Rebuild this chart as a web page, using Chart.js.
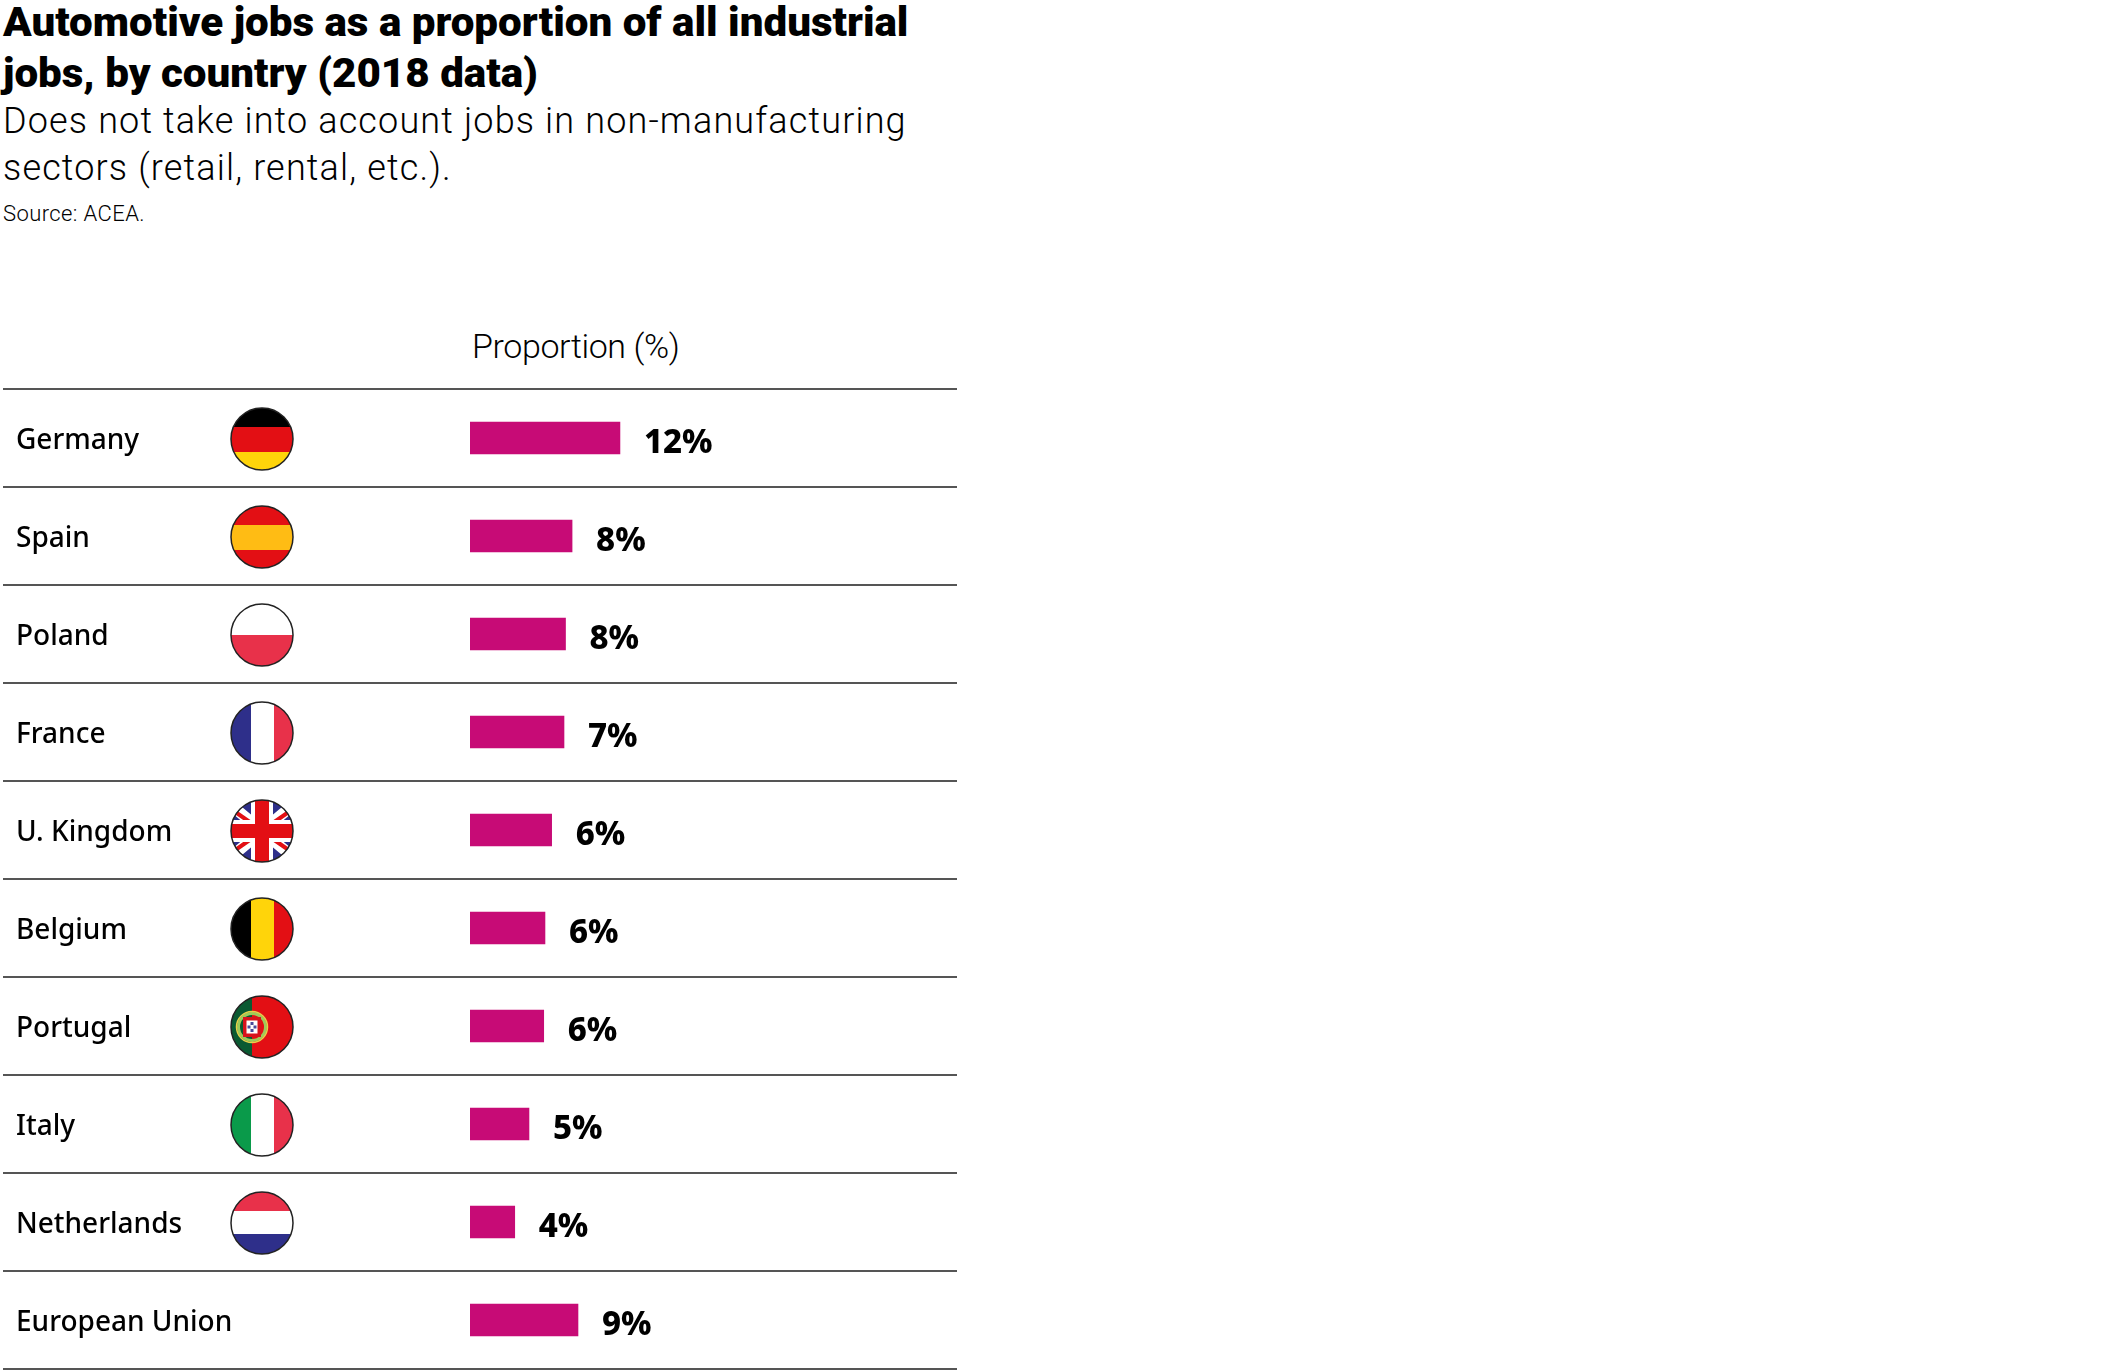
<!DOCTYPE html>
<html>
<head>
<meta charset="utf-8">
<script src="https://cdn.jsdelivr.net/npm/chart.js@4"></script>
<style>
  html, body { margin: 0; padding: 0; background: #fff; }
  body { width: 2126px; height: 1372px; position: relative; overflow: hidden; }
  #myChart { position: absolute; left: 0; top: 0; }
  .txt { position: absolute; white-space: nowrap; color: #000; transform-origin: left top; }
  #title { left: 3px; top: -3px; font: 900 41px/51px Roboto, sans-serif; transform: scaleX(1.027); }
  #sub { left: 3px; top: 98px; font: 300 36px/47px Roboto, sans-serif; letter-spacing: 1.15px; }
  #source { left: 3px; top: 200px; font: 300 22px/28px Roboto, sans-serif; letter-spacing: .4px; }
  #axisTitle { left: 472px; top: 326px; font: 300 34px/40px Roboto, sans-serif; letter-spacing: -.4px; }
</style>
</head>
<body>
<div class="txt" id="title">Automotive jobs as a proportion of all industrial<br>jobs, by country (2018 data)</div>
<div class="txt" id="sub">Does not take into account jobs in non-manufacturing<br>sectors (retail, rental, etc.).</div>
<div class="txt" id="source">Source: ACEA.</div>
<div class="txt" id="axisTitle">Proportion (%)</div>
<canvas id="myChart" width="2126" height="1372"></canvas>
<script>
const countries = ["Germany", "Spain", "Poland", "France", "U. Kingdom", "Belgium", "Portugal", "Italy", "Netherlands", "European Union"]
// bar lengths, the printed labels are rounded
const proportion = [11.9, 8.1, 7.58, 7.46, 6.48, 5.95, 5.85, 4.68, 3.55, 8.57]
const valueLabels = ["12%", "8%", "8%", "7%", "6%", "6%", "6%", "5%", "4%", "9%"]

const RED = "#e30f14", YELLOW = "#ffd40a", BLUE = "#2e2f8a", SOFTRED = "#e8314a"

function hStripes(ctx, x, y, r, stops, colors){
    colors.forEach(function (c, i){
        ctx.fillStyle = c
        ctx.fillRect(x - r, y + stops[i], r * 2, stops[i + 1] - stops[i])
    })
}

function vStripes(ctx, x, y, r, stops, colors){
    colors.forEach(function (c, i){
        ctx.fillStyle = c
        ctx.fillRect(x + stops[i], y - r, stops[i + 1] - stops[i], r * 2)
    })
}

function unionJack(ctx, x, y, r){
    ctx.fillStyle = BLUE
    ctx.fillRect(x - r, y - r, r * 2, r * 2)
    ctx.lineCap = "butt"
    ctx.strokeStyle = "#fff"
    ctx.lineWidth = 11
    ctx.beginPath()
    ctx.moveTo(x - r, y - 26); ctx.lineTo(x + r, y + 26)
    ctx.moveTo(x - r, y + 26); ctx.lineTo(x + r, y - 26)
    ctx.stroke()
    ctx.strokeStyle = RED
    ctx.lineWidth = 4
    ctx.beginPath()
    ctx.moveTo(x - r, y - 22); ctx.lineTo(x - 8, y - 6)
    ctx.moveTo(x + r, y + 22); ctx.lineTo(x + 8, y + 6)
    ctx.moveTo(x - r, y + 22); ctx.lineTo(x - 8, y + 6)
    ctx.moveTo(x + r, y - 22); ctx.lineTo(x + 8, y - 6)
    ctx.stroke()
    ctx.fillStyle = "#fff"
    ctx.fillRect(x - 11, y - r, 22, r * 2)
    ctx.fillRect(x - r, y - 11, r * 2, 22)
    ctx.fillStyle = RED
    ctx.fillRect(x - 7, y - r, 14, r * 2)
    ctx.fillRect(x - r, y - 7, r * 2, 14)
}

function portugal(ctx, x, y, r){
    vStripes(ctx, x, y, r, [-r, -10, r], ["#0a5a32", RED])
    const cx = x - 10
    ctx.strokeStyle = "#9ccb5a"
    ctx.lineWidth = 3
    ctx.beginPath(); ctx.arc(cx, y, 13.5, 0, Math.PI * 2); ctx.stroke()
    ctx.strokeStyle = "#e6d04a"
    ctx.lineWidth = 1.5
    ctx.beginPath(); ctx.arc(cx, y, 15.5, 0, Math.PI * 2); ctx.stroke()
    ctx.fillStyle = "#d8131c"
    ctx.fillRect(cx - 9, y - 10, 18, 20)
    ctx.fillStyle = "#fff"
    ctx.fillRect(cx - 5.5, y - 6.5, 11, 13)
    ctx.fillStyle = "#4a4a9a"
    ctx.fillRect(cx - 1.5, y - 5, 3, 3)
    ctx.fillRect(cx - 1.5, y + 2, 3, 3)
    ctx.fillRect(cx - 4.5, y - 1.5, 3, 3)
    ctx.fillRect(cx + 1.5, y - 1.5, 3, 3)
}

// one painter per row, European Union has no flag
const flags = [
    (c, x, y, r) => hStripes(c, x, y, r, [-r, -12, 13, r], ["#000", RED, YELLOW]),
    (c, x, y, r) => hStripes(c, x, y, r, [-r, -12, 13, r], [RED, "#ffbc14", RED]),
    (c, x, y, r) => hStripes(c, x, y, r, [-r, 0, r], ["#fff", SOFTRED]),
    (c, x, y, r) => vStripes(c, x, y, r, [-r, -11, 12, r], [BLUE, "#fff", SOFTRED]),
    unionJack,
    (c, x, y, r) => vStripes(c, x, y, r, [-r, -11, 12, r], ["#000", YELLOW, RED]),
    portugal,
    (c, x, y, r) => vStripes(c, x, y, r, [-r, -11, 12, r], ["#0a9a4a", "#fff", SOFTRED]),
    (c, x, y, r) => hStripes(c, x, y, r, [-r, -12, 11, r], [SOFTRED, "#fff", BLUE]),
    null
]

const rowExtras = {
    id: "rowExtras",
    afterDatasetsDraw(chart){
        const ctx = chart.ctx
        const yScale = chart.scales.y
        const bars = chart.getDatasetMeta(0).data
        ctx.save()
        // value labels next to bar ends
        ctx.fillStyle = "#000"
        ctx.font = '800 33px "Noto Sans", sans-serif'
        ctx.textAlign = "left"
        ctx.textBaseline = "middle"
        bars.forEach(function (bar, i){
            ctx.fillText(valueLabels[i], bar.x + 24, bar.y + 6)
        })
        // flags
        const r = 31
        countries.forEach(function (name, i){
            if(!flags[i]){
                return
            }
            const x = 262
            const y = yScale.getPixelForValue(i) + 1
            ctx.save()
            ctx.beginPath()
            ctx.arc(x, y, r, 0, Math.PI * 2)
            ctx.clip()
            flags[i](ctx, x, y, r)
            ctx.restore()
            ctx.strokeStyle = "#222"
            ctx.lineWidth = 1.5
            ctx.beginPath()
            ctx.arc(x, y, r, 0, Math.PI * 2)
            ctx.stroke()
        })
        ctx.restore()
    }
}

new Chart(
    document.getElementById("myChart"),
    {
        type: "bar",
        plugins: [rowExtras],
        data: {
            labels: countries,
            datasets: [
                {
                    label: "Proportion (%)",
                    data: proportion,
                    backgroundColor: "#c70b76",
                    borderWidth: 0,
                    barThickness: 32
                }
            ]
        },
        options: {
            indexAxis: "y",
            responsive: false,
            animation: false,
            layout: { padding: { left: 16, top: 389, right: 1169, bottom: 3 } },
            plugins: { legend: { display: false }, title: { display: false }, tooltip: { enabled: false } },
            scales: {
                x: { display: false, min: 0, max: 38.65 },
                y: {
                    afterFit(scale){
                        scale.width = 454
                        scale.paddingTop = 0
                        scale.paddingBottom = 0
                    },
                    border: { display: false },
                    grid: { color: "#555", lineWidth: 2, tickLength: 467, drawOnChartArea: true },
                    ticks: {
                        crossAlign: "far",
                        color: "#000",
                        labelOffset: 3,
                        autoSkip: false,
                        font: { family: '"Noto Sans", sans-serif', size: 28, weight: 500 }
                    }
                }
            }
        }
    }
)
</script>
</body>
</html>
